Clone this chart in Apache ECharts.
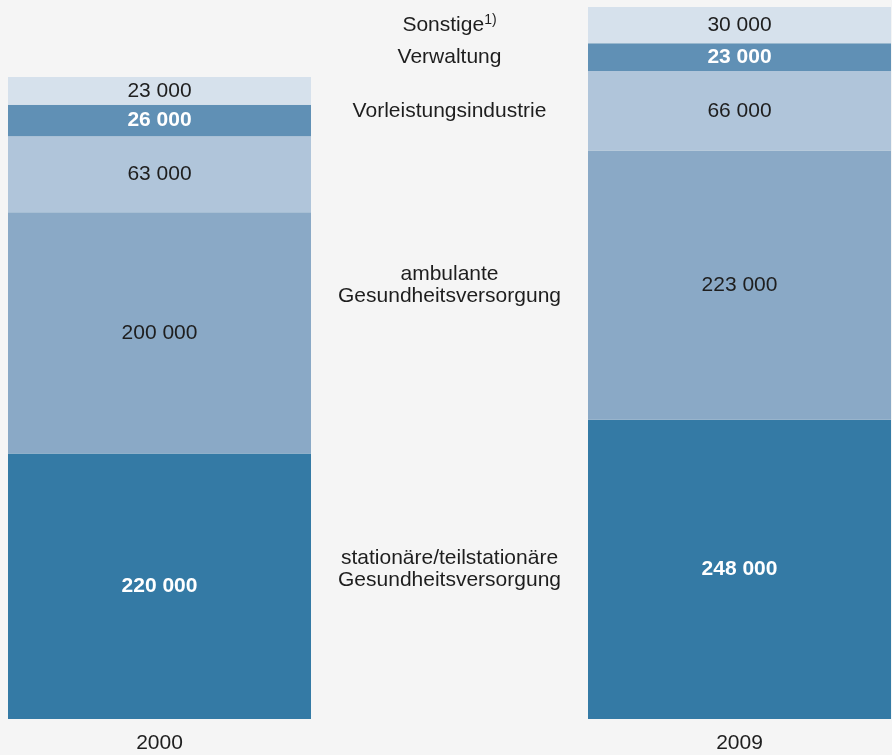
<!DOCTYPE html>
<html><head><meta charset="utf-8">
<script src="https://cdn.jsdelivr.net/npm/echarts@6/dist/echarts.min.js"></script>
<style>html,body{margin:0;padding:0;background:#f5f5f5;}#c{width:892px;height:755px;}</style>
</head><body><div id="c"></div>
<script>
const years = ['2000', '2009'];
const segmentNames = ['stationäre/teilstationäre\nGesundheitsversorgung', 'ambulante\nGesundheitsversorgung', 'Vorleistungsindustrie', 'Verwaltung', 'Sonstige{sup|1)}'];
const values2000 = [220000, 200000, 63000, 26000, 23000];
const values2009 = [248000, 223000, 66000, 23000, 30000];
const colors = ['#347aa5', '#8aa9c6', '#b0c5da', '#6090b5', '#d6e1ec'];
const boldWhite = [true, false, false, true, false];

const categories = [years[0], '', years[1]];
const fmt = v => String(v).replace(/\B(?=(\d{3})+(?!\d))/g, ' ');
const font = 'Liberation Sans, Arial, sans-serif';

const series = segmentNames.map((name, i) => {
  const valLabel = {
    show: true, position: 'inside', fontFamily: font, fontSize: 21,
    color: boldWhite[i] ? '#ffffff' : '#1e1e1e',
    fontWeight: boldWhite[i] ? 'bold' : 'normal',
    formatter: p => fmt(p.value)
  };
  return {
    name: name, type: 'bar', stack: 'total', barWidth: 303, clip: false,
    itemStyle: { color: colors[i] },
    label: valLabel,
    emphasis: { disabled: true },
    data: [
      values2000[i],
      {
        value: values2009[i],
        itemStyle: { color: 'rgba(0,0,0,0)' },
        label: {
          show: true, position: 'inside', fontFamily: font, fontSize: 21,
          color: '#1e1e1e', fontWeight: 'normal', lineHeight: 22,
          formatter: () => name,
          rich: { sup: { fontSize: 14, fontFamily: font, color: '#1e1e1e', padding: [0, 0, 9, 0] } }
        }
      },
      values2009[i]
    ]
  };
});

const chart = echarts.init(document.getElementById('c'), null, { renderer: 'canvas' });
chart.setOption({
  backgroundColor: '#f5f5f5',
  animation: false,
  grid: { left: 14.5, width: 870, top: 7, bottom: 36 },
  xAxis: {
    type: 'category', data: categories,
    axisLine: { show: false }, axisTick: { show: false },
    axisLabel: { fontFamily: font, fontSize: 21, color: '#1e1e1e', margin: 14 }
  },
  yAxis: { type: 'value', min: 0, max: 590000, show: false, splitLine: { show: false } },
  series: series
});
</script></body></html>
